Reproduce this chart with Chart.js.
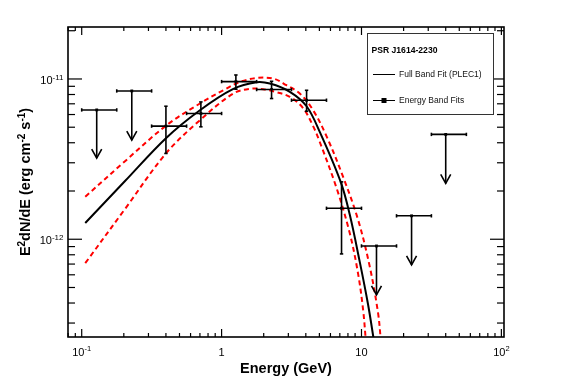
<!DOCTYPE html>
<html>
<head>
<meta charset="utf-8">
<script src="https://cdn.jsdelivr.net/npm/chart.js@4.4.0/dist/chart.umd.min.js"></script>
<style>
html, body { margin: 0; padding: 0; background: #fff; }
#wrap { width: 567px; height: 384px; }
</style>
</head>
<body>
<div id="wrap"><canvas id="sed" width="567" height="384"></canvas></div>
<script>
// energy band fits: bin edges / centre in GeV, E^2 dN/dE in erg cm^-2 s^-1
const binLow   = [0.1, 0.178, 0.316, 0.562, 1.0, 1.78, 3.16, 5.62, 10, 17.8, 31.6];
const binHigh  = [0.178, 0.316, 0.562, 1.0, 1.78, 3.16, 5.62, 10, 17.8, 31.6, 56.2];
const binE     = [0.128, 0.228, 0.400, 0.711, 1.265, 2.276, 4.05, 7.2, 12.8, 22.8, 40.0];
const bandFlux = [6.41e-12, 8.42e-12, 5.08e-12, 6.09e-12, 9.63e-12, 8.59e-12, 7.37e-12, 1.56e-12, 9.08e-13, 1.40e-12, 4.51e-12];
const errHigh  = [null, null, 6.76e-12, 7.19e-12, 1.059e-11, 9.67e-12, 8.50e-12, 2.28e-12, null, null, null];
const errLow   = [3.21e-12, 4.15e-12, 3.43e-12, 5.03e-12, 8.63e-12, 7.55e-12, 6.29e-12, 8.1e-13, 4.5e-13, 6.92e-13, 2.23e-12];
const isUL     = [true, true, false, false, false, false, false, false, true, true, true];

// full band fit (PLEC1) and its 1 sigma band
const fitE = [0.106, 0.204, 0.400, 0.700, 1.204, 1.778, 2.213, 3.075, 4.05, 5.04, 7.11, 8.25, 9.72, 11.15, 12.24];
const fitF = [1.263e-12, 2.307e-12, 4.27e-12, 6.38e-12, 8.64e-12, 9.54e-12, 9.36e-12, 8.32e-12, 6.76e-12, 4.66e-12, 2.27e-12, 1.42e-12, 7.22e-13, 3.90e-13, 2.36e-13];
const upE  = [0.106, 0.204, 0.405, 0.700, 1.027, 1.351, 1.778, 2.337, 2.91, 3.624, 4.51, 5.62, 7.39, 9.46, 11.46, 13.14, 13.74];
const upF  = [1.84e-12, 3.07e-12, 5.15e-12, 7.03e-12, 8.50e-12, 9.58e-12, 1.014e-11, 1.006e-11, 9.14e-12, 8.11e-12, 6.38e-12, 4.40e-12, 2.45e-12, 1.32e-12, 6.75e-13, 3.46e-13, 2.36e-13];
const loE  = [0.106, 0.204, 0.400, 0.700, 1.21, 1.593, 1.98, 2.403, 3.075, 3.83, 4.51, 5.04, 6.63, 8.25, 9.46, 10.27, 10.73];
const loF  = [7.09e-13, 1.545e-12, 3.43e-12, 5.53e-12, 8.11e-12, 8.69e-12, 8.63e-12, 8.32e-12, 7.74e-12, 6.57e-12, 5.08e-12, 4.03e-12, 2.09e-12, 1.089e-12, 6.08e-13, 3.63e-13, 2.36e-13];

// axes
const xMin = 0.0798, xMax = 104.4;
const yMin = 2.455e-13, yMax = 2.11e-11;
const xTickVals = [0.1, 1, 10, 100];
const xTickBase = ['10', '1', '10', '10'];
const xTickExp  = ['-1', '', '', '2'];
const yTickVals = [1e-12, 1e-11];
const yTickBase = ['10', '10'];
const yTickExp  = ['-12', '-11'];
const xTitle = 'Energy (GeV)';
const legendTitle = 'PSR J1614-2230';
const legendFit = 'Full Band Fit (PLEC1)';
const legendBands = 'Energy Band Fits';

const FONT = '"Liberation Sans", Arial, Helvetica, sans-serif';

function pts(xs, ys) {
  return xs.map((v, i) => ({x: v, y: ys[i]}));
}

function seg(ctx, x0, y0, x1, y1) {
  ctx.beginPath(); ctx.moveTo(x0, y0); ctx.lineTo(x1, y1); ctx.stroke();
}

function minorVals(lo, hi) {
  const out = [];
  for (let k = -14; k <= 3; k++) {
    for (let m = 1; m <= 9; m++) {
      const v = m * Math.pow(10, k);
      if (v >= lo && v <= hi) out.push({v: v, major: m === 1});
    }
  }
  return out;
}

function supLabel(ctx, base, exp, x, y, align, size, supSize, rise) {
  ctx.font = size + 'px ' + FONT;
  const wb = ctx.measureText(base).width;
  ctx.font = supSize + 'px ' + FONT;
  const we = exp ? ctx.measureText(exp).width : 0;
  const w = wb + we;
  let x0 = x;
  if (align === 'center') x0 = x - w / 2;
  if (align === 'right') x0 = x - w;
  ctx.textAlign = 'left';
  ctx.textBaseline = 'alphabetic';
  ctx.font = size + 'px ' + FONT;
  ctx.fillText(base, x0, y);
  if (exp) {
    ctx.font = supSize + 'px ' + FONT;
    ctx.fillText(exp, x0 + wb, y - rise);
  }
}

const sedFrame = {
  id: 'sedFrame',
  afterDraw(chart) {
    const ctx = chart.ctx;
    const a = chart.chartArea;
    const xs = chart.scales.x, ys = chart.scales.y;
    ctx.save();
    ctx.strokeStyle = '#000';
    ctx.fillStyle = '#000';

    // error bars and upper limits
    ctx.lineWidth = 1.6;
    for (let i = 0; i < binE.length; i++) {
      const px = xs.getPixelForValue(binE[i]);
      const py = ys.getPixelForValue(bandFlux[i]);
      const x0 = xs.getPixelForValue(binLow[i]);
      const x1 = xs.getPixelForValue(binHigh[i]);
      seg(ctx, x0, py, x1, py);
      seg(ctx, x0, py - 1.7, x0, py + 1.7);
      seg(ctx, x1, py - 1.7, x1, py + 1.7);
      if (isUL[i]) {
        const ty = ys.getPixelForValue(errLow[i]);
        seg(ctx, px, py, px, ty);
        ctx.beginPath();
        ctx.moveTo(px - 5, ty - 9); ctx.lineTo(px, ty); ctx.lineTo(px + 5, ty - 9);
        ctx.stroke();
      } else {
        const y0 = ys.getPixelForValue(errHigh[i]);
        const y1 = ys.getPixelForValue(errLow[i]);
        seg(ctx, px, y0, px, y1);
        seg(ctx, px - 1.7, y0, px + 1.7, y0);
        seg(ctx, px - 1.7, y1, px + 1.7, y1);
      }
    }

    // frame
    ctx.lineWidth = 1.6;
    ctx.strokeRect(a.left, a.top, a.right - a.left, a.bottom - a.top);

    // ticks, inside on all four sides
    ctx.lineWidth = 1.2;
    minorVals(xMin, xMax).forEach(t => {
      const px = xs.getPixelForValue(t.v);
      const len = t.major ? 8 : 4;
      seg(ctx, px, a.bottom, px, a.bottom - len);
      seg(ctx, px, a.top, px, a.top + len);
    });
    minorVals(yMin, yMax).forEach(t => {
      const py = ys.getPixelForValue(t.v);
      const len = t.major ? 14 : 7;
      seg(ctx, a.left, py, a.left + len, py);
      seg(ctx, a.right, py, a.right - len, py);
    });

    // tick labels
    ctx.fillStyle = '#000';
    xTickVals.forEach((v, i) => {
      const px = xs.getPixelForValue(v);
      supLabel(ctx, xTickBase[i], xTickExp[i], px, a.bottom + 18.5, 'center', 11, 7.5, 4.5);
    });
    yTickVals.forEach((v, i) => {
      const py = ys.getPixelForValue(v);
      supLabel(ctx, yTickBase[i], yTickExp[i], a.left - 4.5, py + 5.2, 'right', 11, 8, 4);
    });

    // axis titles
    ctx.font = 'bold 14.5px ' + FONT;
    ctx.textAlign = 'center';
    ctx.textBaseline = 'alphabetic';
    ctx.fillText(xTitle, 286, 373);

    ctx.save();
    ctx.translate(30, 182);
    ctx.rotate(-Math.PI / 2);
    const parts = [['E', 0], ['2', 1], ['dN/dE (erg cm', 0], ['-2', 1], [' s', 0], ['-1', 1], [')', 0]];
    let total = 0;
    parts.forEach(p => {
      ctx.font = 'bold ' + (p[1] ? 10 : 14.5) + 'px ' + FONT;
      total += ctx.measureText(p[0]).width;
    });
    let cx = -total / 2;
    ctx.textAlign = 'left';
    parts.forEach(p => {
      ctx.font = 'bold ' + (p[1] ? 10 : 14.5) + 'px ' + FONT;
      ctx.fillText(p[0], cx, p[1] ? -5.5 : 0);
      cx += ctx.measureText(p[0]).width;
    });
    ctx.restore();

    // legend box
    const L = {x: 367.5, y: 33.5, w: 126, h: 81};
    ctx.fillStyle = '#fff';
    ctx.fillRect(L.x, L.y, L.w, L.h);
    ctx.strokeStyle = '#333';
    ctx.lineWidth = 1;
    ctx.strokeRect(L.x, L.y, L.w, L.h);
    ctx.fillStyle = '#000';
    ctx.strokeStyle = '#000';
    ctx.textAlign = 'left';
    ctx.textBaseline = 'alphabetic';
    ctx.font = 'bold 8.6px ' + FONT;
    ctx.fillText(legendTitle, 371.5, 52.5);
    ctx.font = '8.5px ' + FONT;
    ctx.textBaseline = 'middle';
    ctx.fillStyle = '#111';
    ctx.fillText(legendFit, 399, 74.5);
    ctx.fillText(legendBands, 399, 100.5);
    ctx.lineWidth = 1;
    seg(ctx, 373, 74.5, 395, 74.5);
    seg(ctx, 373, 100.5, 395, 100.5);
    ctx.fillStyle = '#000';
    ctx.fillRect(381.5, 98, 5, 5);

    ctx.restore();
  }
};

new Chart(document.getElementById('sed'), {
  type: 'line',
  data: {
    datasets: [
      {
        label: 'upper',
        data: pts(upE, upF),
        borderColor: '#ff0000',
        borderWidth: 2,
        borderDash: [5, 3.5],
        pointRadius: 0,
        fill: false,
        tension: 0.35
      },
      {
        label: 'lower',
        data: pts(loE, loF),
        borderColor: '#ff0000',
        borderWidth: 2,
        borderDash: [5, 3.5],
        pointRadius: 0,
        fill: false,
        tension: 0.35
      },
      {
        label: legendFit,
        data: pts(fitE, fitF),
        borderColor: '#000',
        borderWidth: 2,
        pointRadius: 0,
        fill: false,
        tension: 0.35
      },
      {
        type: 'scatter',
        label: legendBands,
        data: pts(binE, bandFlux),
        showLine: false,
        pointStyle: 'rect',
        pointRadius: 2,
        backgroundColor: '#000',
        borderWidth: 0
      }
    ]
  },
  options: {
    responsive: false,
    animation: false,
    devicePixelRatio: 1,
    layout: {padding: {left: 68, top: 27, right: 63, bottom: 47}},
    plugins: {legend: {display: false}, tooltip: {enabled: false}},
    scales: {
      x: {type: 'logarithmic', min: xMin, max: xMax, display: false},
      y: {type: 'logarithmic', min: yMin, max: yMax, display: false}
    }
  },
  plugins: [sedFrame]
});
</script>
</body>
</html>
